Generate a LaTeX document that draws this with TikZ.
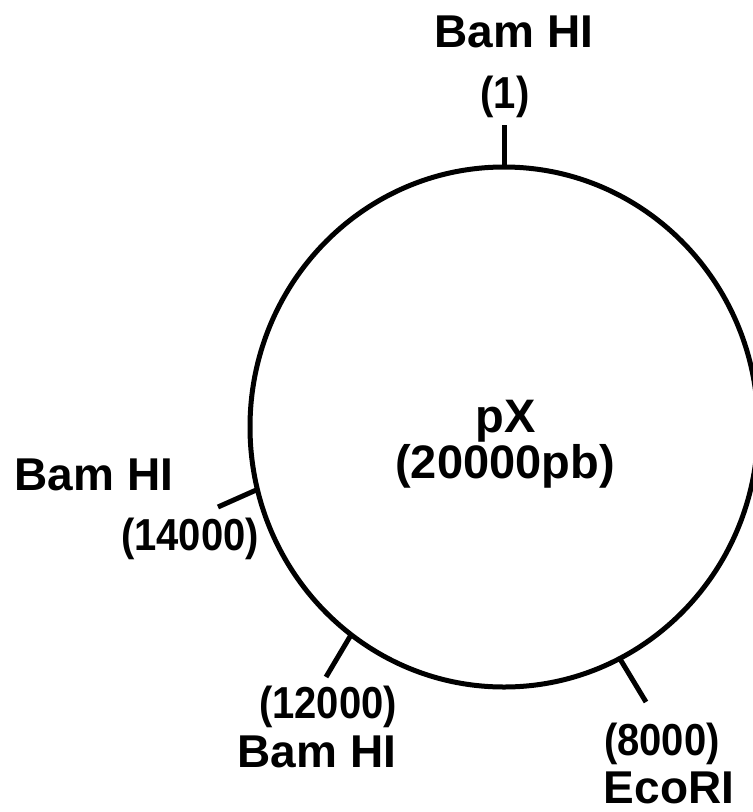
\documentclass[tikz,border=0pt]{standalone}
\usepackage{fontspec}
\setmainfont{Liberation Sans}
\usetikzlibrary{calc}
\begin{document}
\begin{tikzpicture}[x=1pt,y=-1pt,
  word/.style={inner sep=0pt,anchor=base,font=\fontsize{46}{50}\selectfont\bfseries},
  num/.style={inner sep=0pt,anchor=base,font=\fontsize{40}{44}\selectfont\bfseries},
  mid/.style={inner sep=0pt,anchor=base,font=\fontsize{47}{52}\selectfont\bfseries},
  tick/.style={line width=5pt},
  ring/.style={line width=5pt}]
\useasboundingbox (0,0) rectangle (753,812);
\clip (0,0) rectangle (753,812);
\coordinate (c) at (504,427);
\draw[ring] (c) ellipse [x radius=254pt, y radius=260pt];
% points on the ring
\coordinate (p1) at ({504+254*cos(90)},{427-260*sin(90)});
\coordinate (p14) at ({504+254*cos(193.9)},{427-260*sin(193.9)});
\coordinate (p12) at ({504+254*cos(233)},{427-260*sin(233)});
\coordinate (p8) at ({504+254*cos(297.1)},{427-260*sin(297.1)});
% outer ends
\coordinate (q1) at (504,125);
\coordinate (q14) at (218,507);
\coordinate (q12) at (326,677);
\coordinate (q8) at (646,702);
\draw[tick] (p1) -- (q1);
\draw[tick] (p14) -- (q14);
\draw[tick] (p12) -- (q12);
\draw[tick] (p8) -- (q8);
% labels
\node[word] (b1) at (514,47) {Bam HI};
\node[num] (n1) at (505,108) {\scalebox{1}[1.12]{(1)}};
\node[word] (b14) at (94,490) {Bam HI};
\node[num] (n14) at (190,550) {\scalebox{1}[1.12]{(14000)}};
\node[num] (n12) at (328,718) {\scalebox{1}[1.12]{(12000)}};
\node[word] (b12) at (317,767) {Bam HI};
\node[num] (n8) at (662,755) {\scalebox{1}[1.12]{(8000)}};
\node[word] (e8) at (669,803) {EcoRI};
\node[mid] (px) at (506,432) {pX};
\node[mid] (sz) at (505,478) {(20000pb)};
\end{tikzpicture}
\end{document}
